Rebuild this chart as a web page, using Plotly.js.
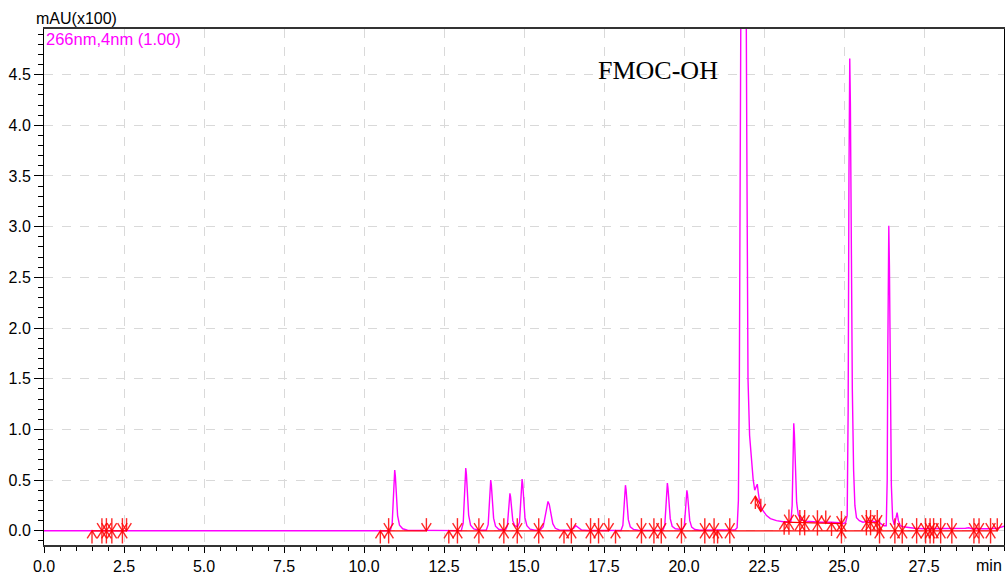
<!DOCTYPE html>
<html>
<head>
<meta charset="utf-8">
<script src="https://cdn.plot.ly/plotly-3.0.1.min.js"></script>
<style>html,body{margin:0;padding:0;background:#fff;}#chart{width:1006px;height:575px;}</style>
</head>
<body>
<div id="chart"></div>
<script>
// Chromatogram signal (retention time in min, absorbance in mAU x100)
const time = [
0, 1.5, 2.6, 10.0, 10.82, 10.88, 10.92, 10.945, 10.96, 10.98, 11.01, 11.05, 11.11, 11.21, 11.36, 11.9, 12.9,
13.04, 13.10, 13.14, 13.165, 13.18, 13.20, 13.23, 13.27, 13.33, 13.43, 13.58,
13.82, 13.88, 13.92, 13.945, 13.96, 13.98, 14.01, 14.05, 14.11, 14.21, 14.36,
14.42, 14.48, 14.52, 14.545, 14.56, 14.58, 14.61, 14.65, 14.71, 14.80, 14.86, 14.90, 14.925, 14.94, 14.96, 14.99, 15.03, 15.09, 15.19, 15.34,
15.50, 15.60, 15.66, 15.71, 15.75, 15.79, 15.84, 15.90, 15.98, 16.10,
16.45, 16.55, 16.62, 16.70, 16.80, 17.00,
18.03, 18.09, 18.13, 18.155, 18.17, 18.19, 18.22, 18.26, 18.32, 18.42, 18.57,
19.34, 19.40, 19.44, 19.465, 19.48, 19.50, 19.53, 19.57, 19.63, 19.73,
19.95, 20.01, 20.05, 20.075, 20.09, 20.11, 20.14, 20.18, 20.24, 20.34, 20.49,
21.00, 21.60, 21.66, 21.70, 21.73, 21.76, 21.80, 21.86, 21.92, 21.96, 22.00, 22.05, 22.11, 22.16, 22.21, 22.26, 22.29, 22.32, 22.37, 22.42, 22.50, 22.58, 22.70, 22.89, 23.10, 23.30,
23.34, 23.38, 23.40, 23.42, 23.43, 23.45, 23.48, 23.52, 23.57, 23.65, 23.80, 24.00, 24.30, 24.60, 24.85, 24.95, 25.05,
25.10, 25.13, 25.155, 25.18, 25.20, 25.23, 25.26, 25.30, 25.34, 25.39, 25.48, 25.59, 25.75, 25.85, 25.95, 26.05, 26.15, 26.25, 26.32,
26.35, 26.37, 26.40, 26.42, 26.45, 26.48, 26.52, 26.57, 26.62, 26.66, 26.70, 26.76, 26.85, 26.95, 27.05, 27.20, 27.50, 28.00, 28.50, 28.80, 28.90, 29.00, 29.50, 29.80, 30.00
];
const mAU = [
0, 0, 0, 0, 0, 0.07, 0.33, 0.56, 0.60, 0.54, 0.33, 0.15, 0.055, 0.02, 0.006, 0.003, 0.002,
0.002, 0.075, 0.34, 0.58, 0.62, 0.56, 0.34, 0.155, 0.056, 0.019, 0.006,
0.005, 0.06, 0.275, 0.465, 0.50, 0.45, 0.275, 0.125, 0.045, 0.015, 0.006,
0.006, 0.048, 0.205, 0.345, 0.37, 0.335, 0.21, 0.10, 0.05, 0.04, 0.085, 0.29, 0.48, 0.51, 0.46, 0.28, 0.13, 0.05, 0.016, 0.006,
0.006, 0.04, 0.14, 0.25, 0.29, 0.26, 0.16, 0.07, 0.025, 0.008,
0.005, 0.025, 0.05, 0.03, 0.008, 0.003,
0.003, 0.054, 0.25, 0.42, 0.45, 0.405, 0.25, 0.11, 0.04, 0.014, 0.005,
0.004, 0.056, 0.26, 0.44, 0.47, 0.42, 0.26, 0.12, 0.045, 0.02,
0.012, 0.05, 0.22, 0.37, 0.40, 0.36, 0.22, 0.10, 0.036, 0.013, 0.005,
0.005, 0.01, 0.03, 0.3, 1.5, 4.0, 7.0, 8.5, 7.0, 4.0, 1.5, 0.94, 0.68, 0.51, 0.40, 0.44, 0.46, 0.38, 0.27, 0.22, 0.18, 0.15, 0.12, 0.10, 0.09, 0.085,
0.09, 0.25, 0.7, 1.0, 1.06, 0.95, 0.55, 0.28, 0.16, 0.11, 0.095, 0.09, 0.085, 0.085, 0.08, 0.07, 0.08,
0.15, 1.2, 3.5, 4.66, 4.2, 2.5, 1.4, 0.6, 0.25, 0.13, 0.10, 0.085, 0.09, 0.10, 0.09, 0.10, 0.07, 0.05, 0.05,
0.5, 1.8, 3.01, 2.6, 1.2, 0.45, 0.12, 0.06, 0.12, 0.18, 0.10, 0.05, 0.04, 0.035, 0.03, 0.025, 0.02, 0.02, 0.02, 0.025, 0.03, 0.02, 0.02, 0.025, 0.045
];

// Integration marks: time, level, kind (S = peak start, E = peak end, B = both)
const markTime = [1.50, 1.81, 1.95, 2.12, 2.45, 2.58,
  10.51, 10.77, 11.95, 12.65, 12.92, 13.59, 14.37, 14.79,
  15.46, 16.25, 16.48, 17.08, 17.33, 17.65, 17.86, 18.67, 19.06, 19.29, 19.92,
  20.65, 20.94, 21.05, 21.43,
  22.23, 22.40,
  23.13, 23.28, 23.62, 23.77, 24.17, 24.43, 24.61, 24.92, 24.92,
  25.70, 25.83, 26.04, 26.11,
  26.59, 26.82, 27.27, 27.55, 27.69, 27.80, 28.02, 28.37, 29.06, 29.22, 29.58, 29.79];
const markLevel = [0, 0, 0, 0, 0, 0,
  0, 0, 0, 0, 0, 0, 0, 0,
  0, 0, 0, 0, 0, 0, 0, 0, 0, 0, 0,
  0, 0, 0, 0,
  0.34, 0.19,
  0.086, 0.085, 0.08, 0.08, 0.078, 0.075, 0.074, 0.07, 0,
  0.08, 0.08, 0.08, 0,
  0, 0, 0, 0, 0, 0, 0, 0, 0, 0, 0, 0];
const markKind = ['S', 'B', 'B', 'B', 'B', 'E',
  'S', 'B', 'E', 'S', 'B', 'B', 'B', 'B',
  'B', 'S', 'B', 'B', 'B', 'E', 'S', 'B', 'B', 'B', 'B',
  'B', 'B', 'S', 'B',
  'S', 'E',
  'S', 'B', 'B', 'B', 'B', 'E', 'S', 'B', 'B',
  'B', 'B', 'B', 'B',
  'B', 'B', 'B', 'B', 'B', 'B', 'B', 'B', 'B', 'B', 'B', 'E'];

// Integration baselines
const baseT0 = [1.50, 10.51, 12.65, 17.86, 22.23, 23.13, 25.70];
const baseY0 = [0, 0, 0, 0, 0.34, 0.086, 0.08];
const baseT1 = [2.58, 11.95, 17.65, 29.79, 22.40, 24.92, 26.04];
const baseY1 = [0, 0, 0, 0, 0.19, 0.07, 0.08];

const xTickVals = [0, 2.5, 5, 7.5, 10, 12.5, 15, 17.5, 20, 22.5, 25, 27.5];
const xTickText = ['0.0', '2.5', '5.0', '7.5', '10.0', '12.5', '15.0', '17.5', '20.0', '22.5', '25.0', '27.5'];
const yTickVals = [0, 0.5, 1, 1.5, 2, 2.5, 3, 3.5, 4, 4.5];
const yTickText = ['0.0', '0.5', '1.0', '1.5', '2.0', '2.5', '3.0', '3.5', '4.0', '4.5'];

// build baseline segments
const bx = [], by = [];
for (let i = 0; i < baseT0.length; i++) {
  bx.push(baseT0[i], baseT1[i], null);
  by.push(baseY0[i], baseY1[i], null);
}
// build arrow marks (sizes in axis units)
const STEM = 0.125, ARMY = 0.075, ARMX = 0.15;
const mx = [], my = [];
function arrow(t, y, dir) { // dir -1: up arrow drawn below, +1: down arrow drawn above
  mx.push(t, t, null); my.push(y, y + dir * STEM, null);
  mx.push(t - ARMX, t, t + ARMX, null); my.push(y + dir * ARMY, y, y + dir * ARMY, null);
}
for (let i = 0; i < markTime.length; i++) {
  const k = markKind[i];
  if (k === 'S' || k === 'B') arrow(markTime[i], markLevel[i], -1);
  if (k === 'E' || k === 'B') arrow(markTime[i], markLevel[i], 1);
}

const font = 'Liberation Sans, Arial, sans-serif';
const traces = [
  {x: time, y: mAU, type: 'scatter', mode: 'lines', line: {color: '#ff00ff', width: 1.4}, hoverinfo: 'skip'},
  {x: bx, y: by, type: 'scatter', mode: 'lines', line: {color: 'rgb(255,0,0)', width: 1.2}, hoverinfo: 'skip'},
  {x: mx, y: my, type: 'scatter', mode: 'lines', line: {color: 'rgba(255,0,0,0.85)', width: 1.4}, hoverinfo: 'skip'}
];

const layout = {
  width: 1006, height: 575,
  margin: {l: 44, r: 2, t: 29, b: 30},
  paper_bgcolor: '#fff', plot_bgcolor: '#fff',
  showlegend: false,
  font: {family: font, size: 16, color: '#000'},
  xaxis: {
    range: [0, 30], tickmode: 'array', tickvals: xTickVals, ticktext: xTickText,
    ticks: 'outside', ticklen: 6, tickcolor: '#000', tickwidth: 1,
    showline: true, linecolor: '#333', linewidth: 2, mirror: true,
    showgrid: true, gridcolor: '#d9d9d9', griddash: 'dash', gridwidth: 1,
    zeroline: false,
    minor: {dtick: 0.5, tick0: 0, ticks: 'outside', ticklen: 4, tickcolor: '#000', showgrid: false},
    tickfont: {family: font, size: 16, color: '#000'}
  },
  yaxis: {
    range: [-0.14, 4.95], tickmode: 'array', tickvals: yTickVals, ticktext: yTickText,
    ticks: 'outside', ticklen: 9, tickcolor: '#000', tickwidth: 1,
    showline: true, linecolor: '#000', linewidth: 1, mirror: true,
    showgrid: true, gridcolor: '#d9d9d9', griddash: 'dash', gridwidth: 1,
    zeroline: false,
    minor: {dtick: 0.1, tick0: 0, ticks: 'outside', ticklen: 5, tickcolor: '#000', showgrid: false},
    tickfont: {family: font, size: 16, color: '#000'}
  },
  annotations: [
    {text: 'mAU(x100)', xref: 'paper', yref: 'paper', x: -0.0104, y: 1.02, xanchor: 'left', yanchor: 'middle', showarrow: false, font: {family: font, size: 16, color: '#000'}},
    {text: '266nm,4nm (1.00)', xref: 'paper', yref: 'paper', x: 0, y: 0.981, xanchor: 'left', yanchor: 'middle', showarrow: false, font: {family: font, size: 16.5, color: '#ff00ff'}},
    {text: 'FMOC-OH', xref: 'paper', yref: 'paper', x: 0.640, y: 0.919, xanchor: 'center', yanchor: 'middle', showarrow: false, font: {family: 'Liberation Serif, Times New Roman, serif', size: 26, color: '#000'}},
    {text: 'min', xref: 'paper', yref: 'paper', x: 1.0, y: -0.04, xanchor: 'right', yanchor: 'middle', showarrow: false, font: {family: font, size: 16, color: '#000'}}
  ]
};

Plotly.newPlot('chart', traces, layout, {displayModeBar: false, staticPlot: true});
</script>
</body>
</html>
